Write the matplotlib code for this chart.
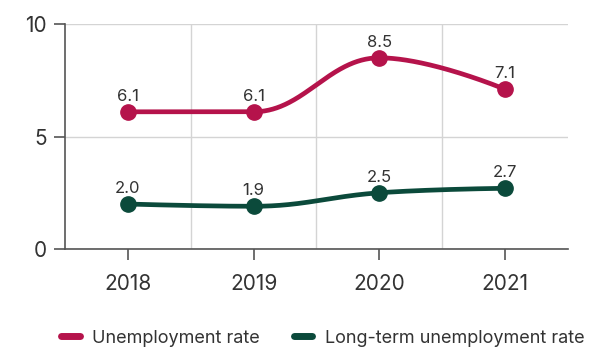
import numpy as np
import matplotlib.pyplot as plt

years = ['2018', '2019', '2020', '2021']
unemployment = [6.1, 6.1, 8.5, 7.1]
long_term = [2.0, 1.9, 2.5, 2.7]

red = '#B5134B'
green = '#0B4A3B'


def spline(x, y, smoothing=1.5, n=200):
    # bezier spline through the points, control points from the neighbours,
    # clamped so local extremes stay flat
    x = np.asarray(x, float)
    y = np.asarray(y, float)
    k = len(x)
    lc = np.column_stack([x, y])
    rc = np.column_stack([x, y])
    d = smoothing + 1
    for i in range(1, k - 1):
        lx = (smoothing * x[i] + x[i - 1]) / d
        ly = (smoothing * y[i] + y[i - 1]) / d
        rx = (smoothing * x[i] + x[i + 1]) / d
        ry = (smoothing * y[i] + y[i + 1]) / d
        corr = (ry - ly) * (rx - x[i]) / (rx - lx) + y[i] - ry
        ly += corr
        ry += corr
        if ly > max(y[i - 1], y[i]):
            ly = max(y[i - 1], y[i])
            ry = 2 * y[i] - ly
        elif ly < min(y[i - 1], y[i]):
            ly = min(y[i - 1], y[i])
            ry = 2 * y[i] - ly
        if ry > max(y[i + 1], y[i]):
            ry = max(y[i + 1], y[i])
            ly = 2 * y[i] - ry
        elif ry < min(y[i + 1], y[i]):
            ry = min(y[i + 1], y[i])
            ly = 2 * y[i] - ry
        lc[i] = (lx, ly)
        rc[i] = (rx, ry)
    t = np.linspace(0, 1, n)[:, None]
    segs = []
    for i in range(k - 1):
        p0 = np.array([x[i], y[i]])
        p3 = np.array([x[i + 1], y[i + 1]])
        p1, p2 = rc[i], lc[i + 1]
        segs.append((1 - t)**3 * p0 + 3 * (1 - t)**2 * t * p1 + 3 * (1 - t) * t**2 * p2 + t**3 * p3)
    pts = np.vstack(segs)
    return pts[:, 0], pts[:, 1]


plt.rcParams['font.family'] = ['Inter', 'DejaVu Sans']

fig = plt.figure(figsize=(5.96, 3.49), dpi=100)
ax = fig.add_axes([0.109, 0.2865, 0.844, 0.6445])

x = np.arange(len(years))
for vals, col, name in [(unemployment, red, 'Unemployment rate'),
                        (long_term, green, 'Long-term unemployment rate')]:
    sx, sy = spline(x, vals)
    ax.plot(sx, sy, color=col, lw=3.4, solid_capstyle='round', zorder=3)
    ax.plot(x, vals, 'o', color=col, ms=11, zorder=4)
    ax.plot([], [], color=col, lw=5, solid_capstyle='round', label=name)
    for xi, v in zip(x, vals):
        ax.text(xi, v + 0.36, f'{v:.1f}', ha='center', va='bottom',
                fontsize=12, color='#333333', zorder=5)

ax.set_xlim(-0.5, 3.5)
ax.set_ylim(0, 10)
ax.set_yticks([0, 5, 10])
ax.set_xticks(x)
ax.set_xticklabels(years)
ax.set_xticks([0.5, 1.5, 2.5], minor=True)

ax.grid(axis='y', color='#d4d4d4', lw=1)
ax.grid(axis='x', which='minor', color='#d4d4d4', lw=1)
ax.set_axisbelow(True)

for side in ['top', 'right']:
    ax.spines[side].set_visible(False)
for side in ['left', 'bottom']:
    ax.spines[side].set_color('#555555')
    ax.spines[side].set_linewidth(1.2)
ax.tick_params(axis='both', which='major', colors='#555555', width=1.2, length=8,
               labelsize=15, labelcolor='#333333', pad=5)
ax.tick_params(axis='x', which='minor', length=0)
ax.tick_params(axis='x', pad=10)

fig.legend(loc='lower center', bbox_to_anchor=(0.542, -0.04), ncol=2, frameon=False,
           fontsize=13, handlelength=1.0, handletextpad=0.7, columnspacing=1.9,
           labelcolor='#333333')

fig.savefig('out.png', dpi=100)
